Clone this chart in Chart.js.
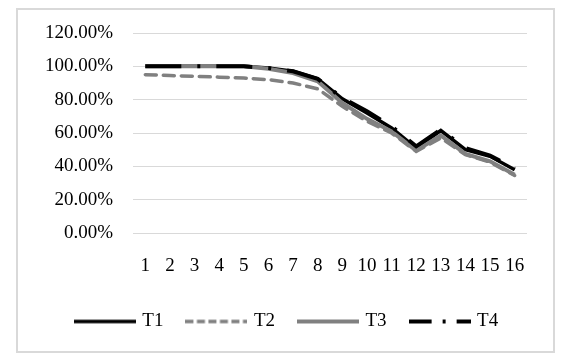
<!DOCTYPE html>
<html>
<head>
<meta charset="utf-8">
<script src="https://cdn.jsdelivr.net/npm/chart.js@4/dist/chart.umd.min.js"></script>
<style>
html,body{margin:0;padding:0;background:#fff;}
#frame{position:absolute;left:16px;top:8px;width:535px;height:341px;border:2px solid #d9d9d9;}
#c{position:absolute;left:0;top:0;}
</style>
</head>
<body>
<div id="frame"></div>
<canvas id="c" width="570" height="361"></canvas>
<script>
const categories = ['1','2','3','4','5','6','7','8','9','10','11','12','13','14','15','16'];
const T1 = [100,100,100,100,100,99,97,92.5,80.5,72,63,51,61.5,50,46,38];
const T2 = [95,94.5,94,93.5,93,92,90,86.5,76,67,60,49,57,47,42.5,34.5];
const T3 = [100,100,100,100,100,98.5,96,91,78,68.5,61,49.5,58.5,47.5,43,35];
const T4 = [100,100,100,100,100,99,97,92.5,81,73,64,52,62,51,46.5,38.5];
const yTickLabels = ['0.00%','20.00%','40.00%','60.00%','80.00%','100.00%','120.00%'];

const FONT = {family: '"Liberation Serif", "Times New Roman", serif', size: 19};

function legendImage(color, width, dash) {
  const cv = document.createElement('canvas');
  cv.width = 62; cv.height = 6;
  const ctx = cv.getContext('2d');
  ctx.strokeStyle = color;
  ctx.lineWidth = width;
  ctx.setLineDash(dash);
  ctx.beginPath();
  ctx.moveTo(0, 3);
  ctx.lineTo(62, 3);
  ctx.stroke();
  return cv;
}
const legendImages = {
  T1: legendImage('#000000', 3.5, []),
  T2: legendImage('#808080', 3.5, [8, 3.5]),
  T3: legendImage('#808080', 4, []),
  T4: legendImage('#000000', 4, [23, 11, 3, 11])
};

new Chart(document.getElementById('c'), {
  type: 'line',
  data: {
    labels: categories,
    datasets: [
      {label: 'T1', data: T1, borderColor: '#000000', borderWidth: 3.5, order: 3},
      {label: 'T2', data: T2, borderColor: '#808080', borderWidth: 3.5, borderDash: [11, 7], borderCapStyle: 'round', order: 2},
      {label: 'T3', data: T3, borderColor: '#808080', borderWidth: 4, order: 1},
      {label: 'T4', data: T4, borderColor: '#000000', borderWidth: 4, borderDash: [36, 16, 3, 16], order: 0}
    ]
  },
  options: {
    responsive: false,
    animation: false,
    elements: {point: {radius: 0}, line: {tension: 0, fill: false}},
    layout: {padding: {left: 24, right: 19, top: 33, bottom: 20}},
    plugins: {
      tooltip: {enabled: false},
      legend: {
        position: 'bottom',
        labels: {
          usePointStyle: true,
          pointStyleWidth: 56,
          padding: 25,
          color: '#000',
          font: FONT,
          generateLabels(chart) {
            const items = Chart.defaults.plugins.legend.labels.generateLabels(chart);
            items.forEach(it => { it.pointStyle = legendImages[it.text]; });
            items.sort((a, b) => a.datasetIndex - b.datasetIndex);
            return items;
          }
        }
      }
    },
    scales: {
      x: {
        offset: true,
        grid: {display: false, drawTicks: false, offset: true},
        border: {display: false},
        ticks: {color: '#000', font: FONT, padding: 22, maxRotation: 0, autoSkip: false},
        afterFit(scale) { scale.height = 54; }
      },
      y: {
        min: 0, max: 120,
        grid: {color: '#d9d9d9', lineWidth: 1, drawTicks: false},
        border: {display: false},
        ticks: {
          stepSize: 20, color: '#000', font: FONT, padding: 20,
          callback(v, i) { return yTickLabels[i]; }
        },
        afterFit(scale) { scale.width = 109; }
      },
      yRight: {
        position: 'right',
        display: true,
        grid: {display: false, drawTicks: false},
        border: {display: false},
        ticks: {display: false},
        afterFit(scale) { scale.width = 24; }
      }
    }
  }
});
</script>
</body>
</html>
